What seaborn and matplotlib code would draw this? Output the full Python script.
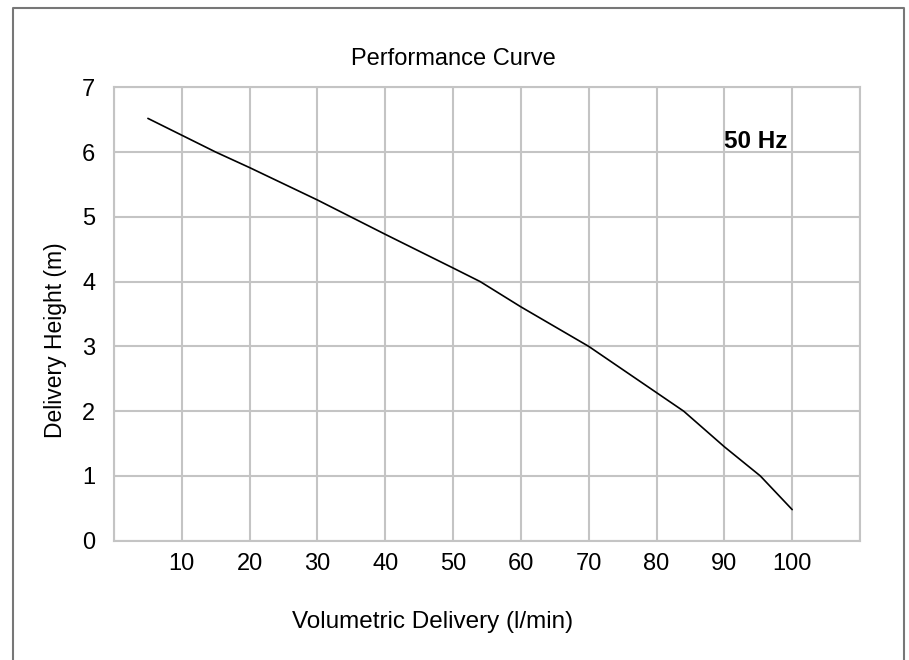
import numpy as np
import pandas as pd
import seaborn as sns
import matplotlib.pyplot as plt
from matplotlib.lines import Line2D

# curve (l/min, m)
flow = [5, 15, 20, 30, 40, 50, 54, 60, 70, 84, 90, 95.3, 100]
head = [6.52, 6.0, 5.76, 5.26, 4.73, 4.21, 4.0, 3.61, 3.0, 2.0, 1.45, 1.0, 0.48]

x_ticks = list(range(0, 111, 10))
x_labels = [''] + [str(v) for v in range(10, 101, 10)] + ['']
y_ticks = list(range(0, 8))

df = pd.DataFrame({'flow': flow, 'head': head})

sns.set_theme(style='whitegrid')
plt.rcParams['font.family'] = ['Liberation Sans', 'DejaVu Sans']
plt.rcParams['text.color'] = 'black'

fig = plt.figure(figsize=(9.09, 6.6), dpi=100)
ax = fig.add_axes([114/909, 1-540.7/660, 746/909, 453.4/660])

sns.lineplot(data=df, x='flow', y='head', color='black', linewidth=1.2, ax=ax)

ax.set_xlim(0, 110)
ax.set_ylim(0, 7)
ax.set_xticks(x_ticks)
ax.set_xticklabels(x_labels, fontsize=17)
ax.set_yticks(y_ticks)
ax.set_yticklabels([str(v) for v in y_ticks], fontsize=17)
ax.tick_params(axis='both', length=0, colors='black')
ax.tick_params(axis='x', pad=9)
ax.tick_params(axis='y', pad=13.5)
ax.grid(True, color='#c4c4c4', linewidth=1.5)
for s in ax.spines.values():
    s.set_color('#c4c4c4')
    s.set_linewidth(1.5)

ax.set_xlabel('Volumetric Delivery (l/min)', fontsize=17.5, color='black')
ax.set_ylabel('Delivery Height (m)', fontsize=16.5, color='black')
ax.xaxis.set_label_coords((433-114)/746, (540.7-611)/453.4)
ax.yaxis.set_label_coords((67-114)/746, (540.7-340)/453.4)

ax.text(90.0, 6.06, '50 Hz', fontsize=17.5, fontweight='bold', color='black',
        ha='left', va='baseline')

fig.text(453/909, 1-59/660, 'Performance Curve', fontsize=17, color='black',
         ha='center', va='center')

# outer frame, open at the bottom
fig.add_artist(Line2D([12.5/909, 12.5/909, 904/909, 904/909], [0, 1-8/660, 1-8/660, 0],
                      transform=fig.transFigure, color='#777777', linewidth=1.5))

fig.savefig('out.png', dpi=100)
